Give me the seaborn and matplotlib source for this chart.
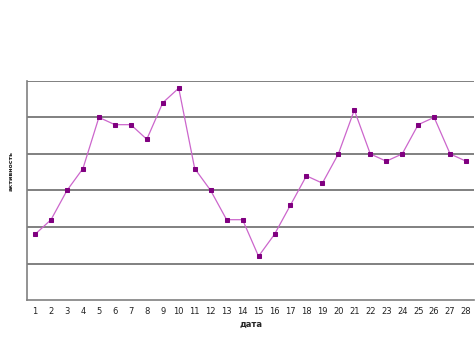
import matplotlib
matplotlib.use("Agg")
import matplotlib.pyplot as plt
import seaborn as sns
import pandas as pd

days = list(range(1, 29))
activity = [1.8, 2.2, 3.0, 3.6, 5.0, 4.8, 4.8, 4.4, 5.4, 5.8,
            3.6, 3.0, 2.2, 2.2, 1.2, 1.8, 2.6, 3.4, 3.2, 4.0,
            5.2, 4.0, 3.8, 4.0, 4.8, 5.0, 4.0, 3.8]

sns.set_style("white")
plt.rcParams['font.family'] = ['DejaVu Sans']

df = pd.DataFrame({"idx": range(len(days)), "val": activity})

fig = plt.figure(figsize=(4.75, 3.56), dpi=100)
ax = fig.add_axes([0.057, 0.157, 0.941, 0.616])

for y in range(1, 7):
    ax.axhline(y, color="#808080", lw=1.4, zorder=1)

sns.lineplot(data=df, x="idx", y="val", ax=ax, color="#CC66CC", lw=0.9,
             marker="s", markersize=3.5, markerfacecolor="#800080",
             markeredgecolor="#800080", zorder=3)

ax.set_xlim(-0.5, len(days) - 0.5)
ax.set_ylim(0, 6)
ax.set_xticks(range(len(days)))
ax.set_xticklabels([str(d) for d in days], fontsize=6, color="#222222")
ax.set_xticks([i - 0.5 for i in range(len(days) + 1)], minor=True)
ax.tick_params(axis="x", which="major", length=0, pad=5)
ax.tick_params(axis="x", which="minor", length=3, color="#808080", direction="out")
ax.set_yticks(range(0, 7))
ax.set_yticklabels([])
ax.tick_params(axis="y", length=3, color="#808080", direction="out")

for side in ["top", "right"]:
    ax.spines[side].set_visible(False)
for side in ["left", "bottom"]:
    ax.spines[side].set_color("#808080")
    ax.spines[side].set_linewidth(1.2)

ax.set_xlabel("дата", fontsize=6, fontweight="bold", labelpad=3)
ax.set_ylabel("активность", fontsize=4.5, fontweight="bold")
ax.yaxis.set_label_coords(-0.029, 0.589)

fig.savefig("out.png", dpi=100, facecolor="white")
